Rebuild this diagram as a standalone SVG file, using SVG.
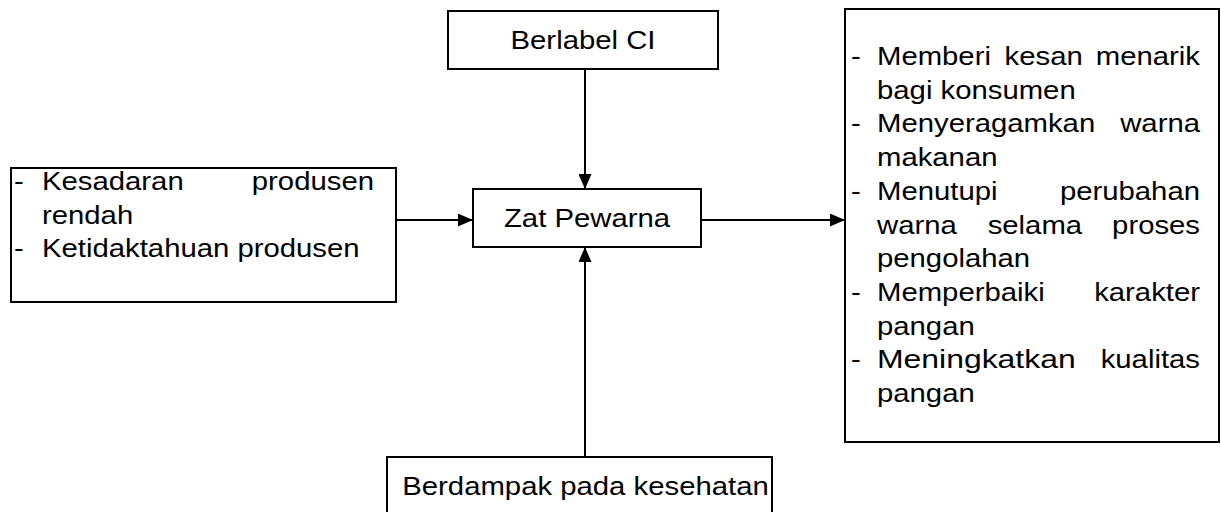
<svg xmlns="http://www.w3.org/2000/svg" width="1221" height="512" viewBox="0 0 1221 512">
<defs>
<style>
.box{fill:#fff;stroke:#000;stroke-width:2}
.t{font-family:"Liberation Sans",Arial,sans-serif;font-size:26px;fill:#000}
.c{text-anchor:middle}
.e{text-anchor:end}
.conn{stroke:#000;stroke-width:2;fill:none;marker-end:url(#ah)}
</style>
<marker id="ah" markerUnits="userSpaceOnUse" markerWidth="15" markerHeight="13" viewBox="0 0 15 13" refX="15" refY="6.5" orient="auto">
<path d="M0,0 L15,6.5 L0,13 z" fill="#000"/>
</marker>
</defs>
<rect width="1221" height="512" fill="#fff"/>
<g id="connectors">
<line class="conn" x1="585" y1="69" x2="585" y2="189"/>
<line class="conn" x1="396" y1="220" x2="473" y2="220"/>
<line class="conn" x1="701" y1="220" x2="845" y2="220"/>
<line class="conn" x1="585" y1="457" x2="585" y2="247"/>
</g>
<g id="node-berlabel">
<rect class="box" x="448" y="11" width="270" height="58"/>
<text class="t c" x="583" y="49" textLength="144.9" lengthAdjust="spacingAndGlyphs">Berlabel CI</text>
</g>
<g id="node-zat">
<rect class="box" x="473" y="189" width="228" height="58"/>
<text class="t c" x="587" y="227" textLength="166.1" lengthAdjust="spacingAndGlyphs">Zat Pewarna</text>
</g>
<g id="node-penyebab">
<rect class="box" x="11" y="168" width="385" height="134"/>
<text class="t" x="14" y="190" textLength="9.8" lengthAdjust="spacingAndGlyphs">-</text>
<text class="t" x="42" y="190" textLength="141.7" lengthAdjust="spacingAndGlyphs">Kesadaran</text>
<text class="t" x="251.8" y="190" textLength="122.2" lengthAdjust="spacingAndGlyphs">produsen</text>
<text class="t" x="42" y="223.7" textLength="91.2" lengthAdjust="spacingAndGlyphs">rendah</text>
<text class="t" x="14" y="257.4" textLength="9.8" lengthAdjust="spacingAndGlyphs">-</text>
<text class="t" x="42" y="257.4" textLength="317.6" lengthAdjust="spacingAndGlyphs">Ketidaktahuan produsen</text>
</g>
<g id="node-dampak">
<rect class="box" x="387" y="457" width="385" height="80"/>
<text class="t c" x="585.5" y="495" textLength="366.5" lengthAdjust="spacingAndGlyphs">Berdampak pada kesehatan</text>
</g>
<g id="node-manfaat">
<rect class="box" x="845" y="9" width="374" height="433"/>
<text class="t" x="851" y="65" textLength="9.8" lengthAdjust="spacingAndGlyphs">-</text>
<text class="t" x="877" y="65" textLength="113.9" lengthAdjust="spacingAndGlyphs">Memberi</text>
<text class="t" x="1004.6" y="65" textLength="78.2" lengthAdjust="spacingAndGlyphs">kesan</text>
<text class="t" x="1095.8" y="65" textLength="104.2" lengthAdjust="spacingAndGlyphs">menarik</text>
<text class="t" x="877" y="98.7" textLength="198.7" lengthAdjust="spacingAndGlyphs">bagi konsumen</text>
<text class="t" x="851" y="132.4" textLength="9.8" lengthAdjust="spacingAndGlyphs">-</text>
<text class="t" x="877" y="132.4" textLength="218.2" lengthAdjust="spacingAndGlyphs">Menyeragamkan</text>
<text class="t" x="1120.2" y="132.4" textLength="79.8" lengthAdjust="spacingAndGlyphs">warna</text>
<text class="t" x="877" y="166.1" textLength="120.5" lengthAdjust="spacingAndGlyphs">makanan</text>
<text class="t" x="851" y="199.8" textLength="9.8" lengthAdjust="spacingAndGlyphs">-</text>
<text class="t" x="877" y="199.8" textLength="120.5" lengthAdjust="spacingAndGlyphs">Menutupi</text>
<text class="t" x="1059.9" y="199.8" textLength="140.1" lengthAdjust="spacingAndGlyphs">perubahan</text>
<text class="t" x="877" y="233.5" textLength="79.8" lengthAdjust="spacingAndGlyphs">warna</text>
<text class="t" x="987.7" y="233.5" textLength="94.4" lengthAdjust="spacingAndGlyphs">selama</text>
<text class="t" x="1112.1" y="233.5" textLength="87.9" lengthAdjust="spacingAndGlyphs">proses</text>
<text class="t" x="877" y="267.2" textLength="153.1" lengthAdjust="spacingAndGlyphs">pengolahan</text>
<text class="t" x="851" y="300.9" textLength="9.8" lengthAdjust="spacingAndGlyphs">-</text>
<text class="t" x="877" y="300.9" textLength="167.7" lengthAdjust="spacingAndGlyphs">Memperbaiki</text>
<text class="t" x="1094.2" y="300.9" textLength="105.8" lengthAdjust="spacingAndGlyphs">karakter</text>
<text class="t" x="877" y="334.6" textLength="97.7" lengthAdjust="spacingAndGlyphs">pangan</text>
<text class="t" x="851" y="368.3" textLength="9.8" lengthAdjust="spacingAndGlyphs">-</text>
<text class="t" x="877" y="368.3" textLength="198.7" lengthAdjust="spacingAndGlyphs">Meningkatkan</text>
<text class="t" x="1100.7" y="368.3" textLength="99.3" lengthAdjust="spacingAndGlyphs">kualitas</text>
<text class="t" x="877" y="402" textLength="97.7" lengthAdjust="spacingAndGlyphs">pangan</text>
</g>
</svg>
